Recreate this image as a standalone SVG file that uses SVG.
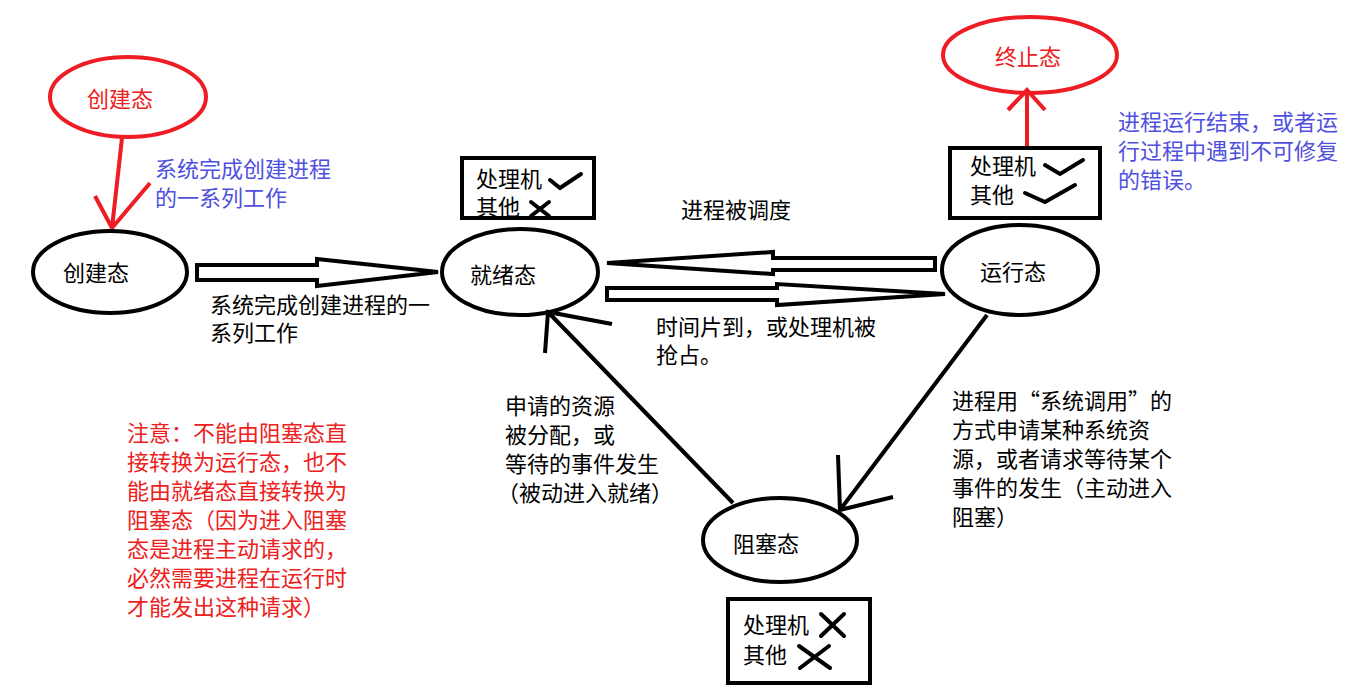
<svg xmlns="http://www.w3.org/2000/svg" width="1365" height="700" viewBox="0 0 1365 700">
<style>
text{font-family:"Noto Sans CJK SC",sans-serif;font-size:22px;fill:#000}
.blue{fill:#5050e0}.red{fill:#ee2020}
.n{fill:none;stroke:#000;stroke-width:4}
.r{fill:none;stroke:#ee1c24;stroke-width:4}
.c{fill:#fff;stroke:#000;stroke-width:4;stroke-linejoin:miter}
.m{fill:none;stroke:#000;stroke-width:4;stroke-linecap:round}
</style>
<rect width="1365" height="700" fill="#fff"/>
<g id="connectors">
<path class="c" d="M197,265 H317 V259 L438,272 L317,286 V280 H197 Z"/>
<path class="c" d="M935,258 H773 V252 L607,263 L773,274 V270 H935 Z"/>
<path class="c" d="M607,288 H777 V284 L945,294 L777,305 V300 H607 Z"/>
<path class="n" d="M733,503 L548,312 M545,353 L548,312 L612,324"/>
<path class="n" d="M987,315 L840,510 M838,455 L840,510 L893,497"/>
<path class="r" d="M122,138 L112,228 M95,196 L112,228 L150,183"/>
<path class="r" d="M1027,150 L1027,90 M1008,110 L1027,90 L1045,110"/>
</g>
<g id="new-red"><ellipse class="r" cx="128" cy="97" rx="78" ry="40"/><text class="red" x="87" y="107">创建态</text></g>
<g id="new"><ellipse class="n" cx="110" cy="272" rx="77" ry="41"/><text x="63" y="281">创建态</text></g>
<g id="ready"><ellipse class="n" cx="520" cy="272" rx="78" ry="43"/><text x="470" y="283">就绪态</text></g>
<g id="running"><ellipse class="n" cx="1020" cy="270" rx="78" ry="45"/><text x="980" y="280">运行态</text></g>
<g id="blocked"><ellipse class="n" cx="780" cy="540" rx="77" ry="42"/><text x="733" y="552">阻塞态</text></g>
<g id="term"><ellipse class="r" cx="1030" cy="55" rx="87" ry="38"/><text class="red" x="995" y="65">终止态</text></g>
<g id="box-ready"><rect class="n" x="462" y="158" width="132" height="60"/>
<text x="476" y="187">处理机</text><text x="476" y="215">其他</text>
<path class="m" d="M550,180 L560,188 L581,174 M531,202 L549,216 M549,202 L531,216"/></g>
<g id="box-run"><rect class="n" x="950" y="148" width="150" height="70"/>
<text x="970" y="174">处理机</text><text x="970" y="203">其他</text>
<path class="m" d="M1045,165 L1060,174 L1083,160 M1025,193 L1045,202 L1075,185"/></g>
<g id="box-block"><rect class="n" x="728" y="599" width="142" height="84"/>
<text x="743" y="633">处理机</text><text x="743" y="663">其他</text>
<path class="m" d="M821,614 L844,636 M844,614 L821,636 M799,646 L830,668 M829,646 L800,668"/></g>
<g id="labels">
<text class="blue" x="155" y="177">系统完成创建进程</text>
<text class="blue" x="155" y="206">的一系列工作</text>
<text x="210" y="313">系统完成创建进程的一</text>
<text x="210" y="341">系列工作</text>
<text x="681" y="218">进程被调度</text>
<text x="656" y="335">时间片到，或处理机被</text>
<text x="656" y="363">抢占。</text>
<text x="505" y="414">申请的资源</text>
<text x="505" y="443">被分配，或</text>
<text x="505" y="472">等待的事件发生</text>
<text x="497" y="501">（被动进入就绪）</text>
<text x="952" y="409">进程用“系统调用”的</text>
<text x="952" y="438">方式申请某种系统资</text>
<text x="952" y="467">源，或者请求等待某个</text>
<text x="952" y="496">事件的发生（主动进入</text>
<text x="952" y="525">阻塞）</text>
<text class="blue" x="1118" y="130">进程运行结束，或者运</text>
<text class="blue" x="1118" y="159">行过程中遇到不可修复</text>
<text class="blue" x="1118" y="188">的错误。</text>
<text class="red" x="127" y="441">注意：不能由阻塞态直</text>
<text class="red" x="127" y="470">接转换为运行态，也不</text>
<text class="red" x="127" y="499">能由就绪态直接转换为</text>
<text class="red" x="127" y="528">阻塞态（因为进入阻塞</text>
<text class="red" x="127" y="557">态是进程主动请求的，</text>
<text class="red" x="127" y="586">必然需要进程在运行时</text>
<text class="red" x="127" y="615">才能发出这种请求）</text>
</g>
</svg>
